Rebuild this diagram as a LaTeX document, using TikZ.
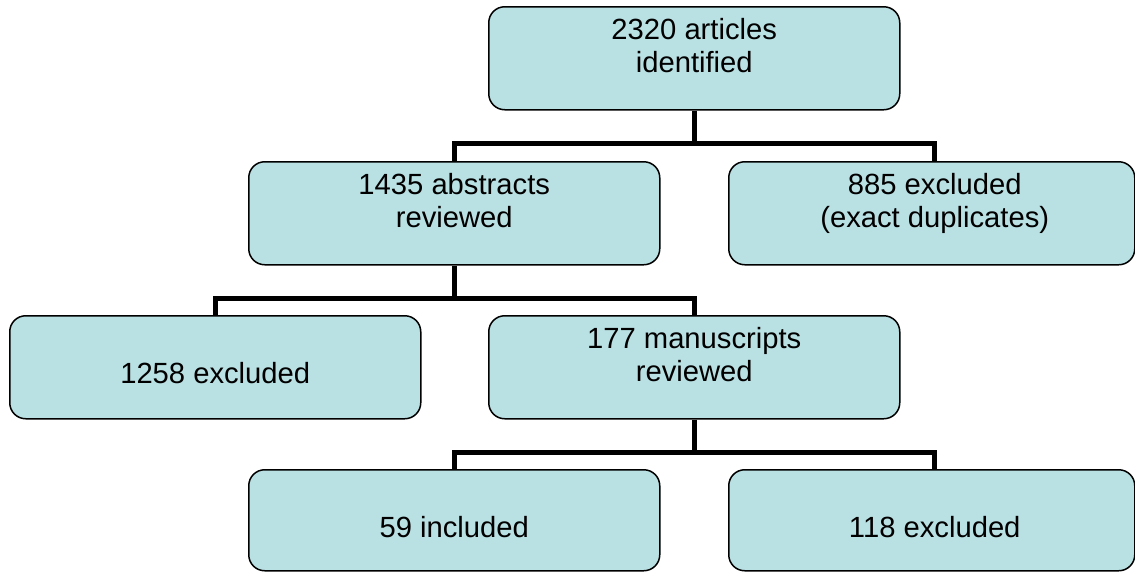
\documentclass[tikz,border=0pt]{standalone}
\usepackage{fontspec}
\setmainfont{Liberation Sans}
\definecolor{boxfill}{RGB}{185,224,227}
\begin{document}
\begin{tikzpicture}[x=1pt,y=-1pt,
  box/.style={draw=black, line width=1.5pt, fill=boxfill, rounded corners=16pt,
              minimum width=411pt, minimum height=103pt, inner sep=0pt, anchor=north west},
  lbl/.style={font=\fontsize{29.2}{33}\selectfont, align=center, inner sep=0pt, anchor=base},
  conn/.style={line width=5pt, line join=miter}]
\useasboundingbox (0,0) rectangle (1135,571);
% boxes
\node[box] (top)   at (488,6)   {};
\node[box] (b1435) at (248,161) {};
\node[box, minimum width=406pt] (b885) at (728,161) {};
\node[box] (b1258) at (9,315)   {};
\node[box] (b177)  at (488,315) {};
\node[box, minimum height=101pt] (b59)  at (248,469) {};
\node[box, minimum width=406pt, minimum height=101pt] (b118) at (728,469) {};
% texts (base anchor = baseline of the last line)
\node[lbl] (t2320) at ([yshift=-66pt]top.north) {2320 articles\\identified};
\node[lbl] (t1435) at ([yshift=-66pt]b1435.north) {1435 abstracts\\reviewed};
\node[lbl] (t885)  at ([yshift=-66pt,xshift=3pt]b885.north) {885 excluded\\(exact duplicates)};
\node[lbl] (t1258) at ([yshift=-68pt]b1258.north) {1258 excluded};
\node[lbl] (t177)  at ([yshift=-66pt]b177.north) {177 manuscripts\\reviewed};
\node[lbl] (t59)   at ([yshift=-68pt]b59.north) {59 included};
\node[lbl] (t118)  at ([yshift=-68pt,xshift=3pt]b118.north) {118 excluded};
% connectors
\draw[conn] (top.south) -- ++(0,33) coordinate (j1);
\draw[conn] (b1435.north) |- (j1) -| ([xshift=3pt]b885.north);
\draw[conn] (b1435.south) -- ++(0,33) coordinate (j2);
\draw[conn] (b1258.north) |- (j2) -| (b177.north);
\draw[conn] (b177.south) -- ++(0,33) coordinate (j3);
\draw[conn] (b59.north) |- (j3) -| ([xshift=3pt]b118.north);
\end{tikzpicture}
\end{document}
